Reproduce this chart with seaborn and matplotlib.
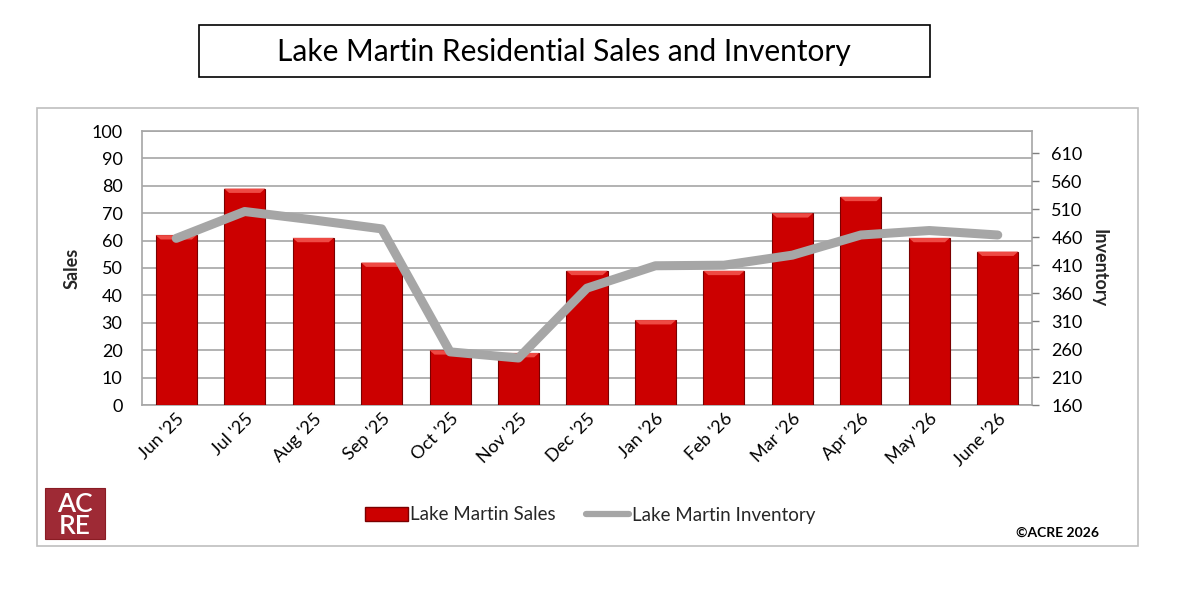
import numpy as np
import pandas as pd
import matplotlib
matplotlib.use("Agg")
import matplotlib.pyplot as plt
import matplotlib.patches as mpatches
from matplotlib.lines import Line2D
import seaborn as sns

months = ["Jun '25", "Jul '25", "Aug '25", "Sep '25", "Oct '25", "Nov '25", "Dec '25",
          "Jan '26", "Feb '26", "Mar '26", "Apr '26", "May '26", "June '26"]
sales = [62, 79, 61, 52, 20, 19, 49, 31, 49, 70, 76, 61, 56]
inventory = [458, 506, 491, 475, 255, 244, 369, 409, 410, 428, 464, 472, 464]
sales_ticks = list(range(0, 101, 10))
inv_ticks = list(range(160, 611, 50))

title = "Lake Martin Residential Sales and Inventory"

sns.set_theme(style="white")
plt.rcParams["font.family"] = ["Lato", "DejaVu Sans"]

df = pd.DataFrame({"month": months, "sales": sales, "inventory": inventory,
                   "pos": np.arange(len(months))})

fig = plt.figure(figsize=(11.96, 5.98), dpi=100)
W, H = 1196, 598

def fx(x): return x / W
def fy(y): return 1 - y / H

# outer chart border
fig.patches.append(mpatches.Rectangle((fx(37), fy(546)), fx(1138) - fx(37), fy(108) - fy(546),
                                      transform=fig.transFigure, fill=False,
                                      edgecolor="#BFBFBF", lw=1.2))
# title box
fig.patches.append(mpatches.Rectangle((fx(199), fy(77)), fx(930) - fx(199), fy(25) - fy(77),
                                      transform=fig.transFigure, fill=False,
                                      edgecolor="black", lw=1.2))
fig.text(fx(564), fy(52), title, ha="center", va="center", fontsize=21.5, color="black")

ax = fig.add_axes([fx(142), fy(405), fx(1032) - fx(142), fy(131) - fy(405)])
sns.barplot(data=df, x="month", y="sales", ax=ax, color="#CC0000", width=0.6,
            edgecolor="#7A0000", linewidth=0.8, saturation=1, zorder=3)
for p in ax.patches:
    x0, w, h = p.get_x(), p.get_width(), p.get_height()
    bev = mpatches.Polygon([(x0, h), (x0 + w, h), (x0 + w * 0.88, h - 1.6), (x0 + w * 0.12, h - 1.6)],
                           closed=True, facecolor="#EE4A44", edgecolor="none", zorder=4)
    ax.add_patch(bev)

ax.set_ylim(0, 100)
ax.set_xlim(-0.5, len(months) - 0.5)
ax.set_yticks(sales_ticks)
ax.yaxis.grid(True, color="#A6A6A6", lw=1.2, zorder=0)
ax.set_axisbelow(True)
for s in ax.spines.values():
    s.set_color("#A6A6A6")
    s.set_linewidth(1.2)
ax.tick_params(axis="y", length=0, labelsize=13, pad=14, colors="black")
ax.tick_params(axis="x", length=0, labelsize=13, pad=4, colors="black")
plt.setp(ax.get_xticklabels(), rotation=45, ha="right", rotation_mode="anchor")
ax.set_xlabel("")
ax.set_ylabel("Sales", fontsize=13, fontweight="bold", labelpad=8)

ax2 = ax.twinx()
sns.lineplot(data=df, x="pos", y="inventory", ax=ax2, color="#A6A6A6", lw=6.5,
             solid_capstyle="round", solid_joinstyle="round", zorder=5)
ax2.set_ylim(160, 650)
ax2.set_yticks(inv_ticks)
ax2.set_xlim(-0.5, len(months) - 0.5)
ax2.set_xlabel("")
for s in ax2.spines.values():
    s.set_visible(False)
ax2.tick_params(axis="y", length=5, width=1, labelsize=13, pad=9, colors="black")
ax2.tick_params(axis="y", color="#7F7F7F")
ax2.set_ylabel("Inventory", fontsize=13, fontweight="bold", rotation=-90, labelpad=18)

# legend
h1 = mpatches.Patch(facecolor="#CC0000", edgecolor="#7A0000", label="Lake Martin Sales")
h2 = Line2D([0], [0], color="#A6A6A6", lw=4.5, solid_capstyle="round", label="Lake Martin Inventory")
fig.legend(handles=[h1, h2], loc="center", bbox_to_anchor=(fx(590), fy(515)), ncol=2,
           frameon=False, fontsize=13.5, handlelength=2.3, handletextpad=0.15, columnspacing=1.6)

# logo
fig.patches.append(mpatches.Rectangle((fx(45), fy(539)), fx(105) - fx(45), fy(488) - fy(539),
                                      transform=fig.transFigure, facecolor="#9E2A35",
                                      edgecolor="#8A1C24", lw=0.8))
fig.text(fx(75), fy(504), "AC", ha="center", va="center", fontsize=19, color="white",
         fontweight="semibold")
fig.text(fx(75), fy(527), "RE", ha="center", va="center", fontsize=19, color="white",
         fontweight="semibold")

fig.text(fx(1099), fy(533), "\u00a9ACRE 2026", ha="right", va="center", fontsize=10,
         fontweight="bold", color="black")

fig.savefig("out.png", dpi=100, facecolor="white")
